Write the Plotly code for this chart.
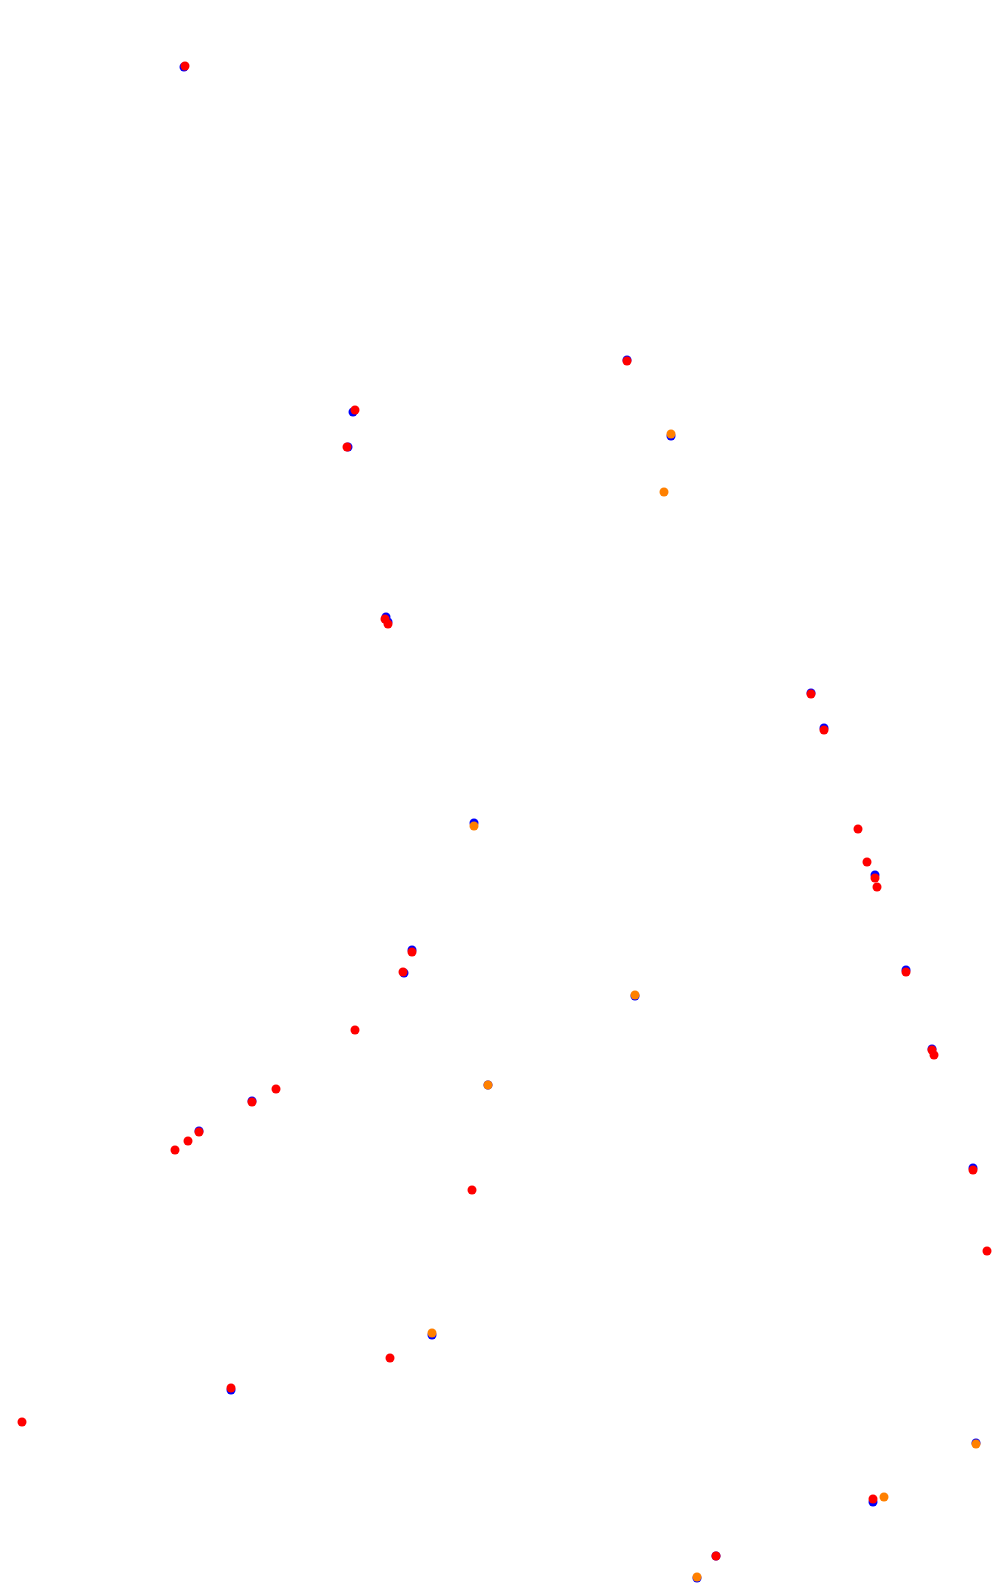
import plotly.graph_objects as go

# Blue series (reference points)
blue_x = [184, 353, 348, 627, 386, 388, 811, 824, 875, 412, 404, 906, 932, 199, 252, 973, 231, 873, 716,
          671, 474, 635, 488, 432, 976, 697]
blue_y = [67, 412, 447, 360, 617, 622, 693, 728, 875, 950, 973, 970, 1049, 1131, 1101, 1168, 1390, 1502, 1556,
          436, 823, 996, 1085, 1335, 1443, 1578]

# Orange series
orange_x = [671, 664, 474, 635, 488, 432, 976, 884, 697]
orange_y = [434, 492, 826, 995, 1085, 1333, 1444, 1497, 1577]

# Red series
red_x = [185, 355, 347, 627, 385, 388, 811, 824, 858, 867, 875, 877, 412, 403, 906, 932, 934,
         175, 188, 199, 252, 276, 355, 472, 973, 987, 390, 231, 22, 873, 716]
red_y = [66, 410, 447, 361, 619, 624, 694, 730, 829, 862, 878, 887, 952, 972, 972, 1050, 1055,
         1150, 1141, 1132, 1102, 1089, 1030, 1190, 1170, 1251, 1358, 1388, 1422, 1499, 1556]

fig = go.Figure()
fig.add_trace(go.Scatter(x=blue_x, y=blue_y, mode="markers",
                         marker=dict(color="#0000FF", size=9, line=dict(width=0)), showlegend=False))
fig.add_trace(go.Scatter(x=orange_x, y=orange_y, mode="markers",
                         marker=dict(color="#FF8000", size=9, line=dict(width=0)), showlegend=False))
fig.add_trace(go.Scatter(x=red_x, y=red_y, mode="markers",
                         marker=dict(color="#FF0000", size=9, line=dict(width=0)), showlegend=False))

# The page body has an 8px margin, so the figure starts at (8, 8)
fig.update_layout(
    width=996, height=1585,
    margin=dict(l=0, r=0, t=0, b=0),
    paper_bgcolor="white", plot_bgcolor="white",
    xaxis=dict(range=[8, 1004], visible=False, showgrid=False, zeroline=False),
    yaxis=dict(range=[1593, 8], visible=False, showgrid=False, zeroline=False),
)
fig.write_html("out.html")
